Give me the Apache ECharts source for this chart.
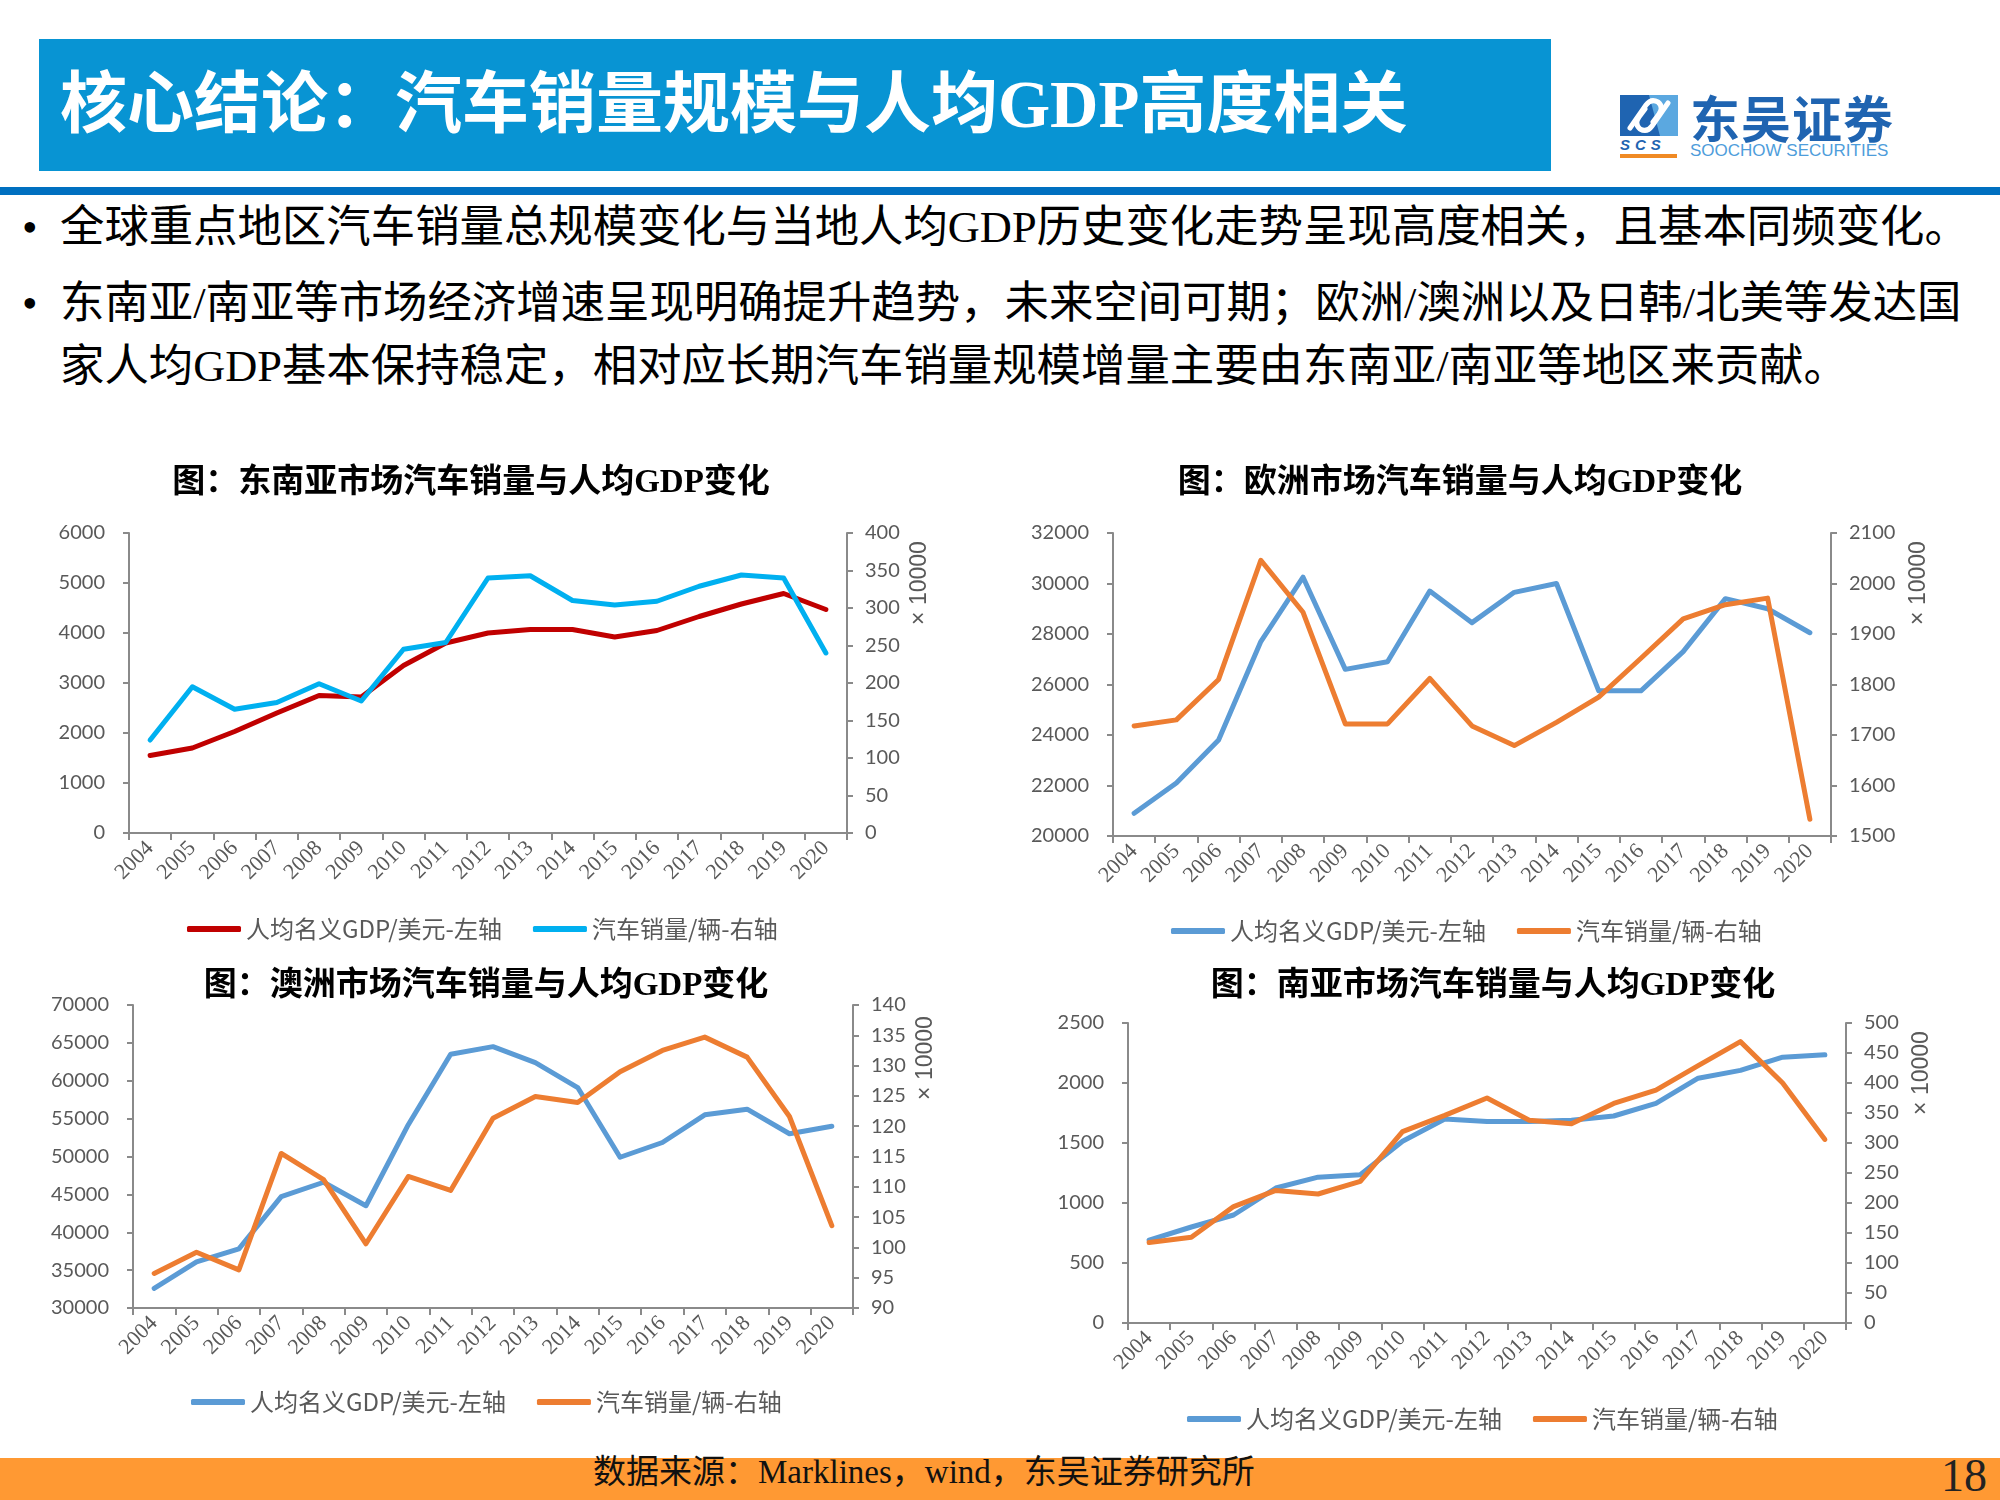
<!DOCTYPE html>
<html>
<head>
<meta charset="utf-8">
<script src="https://cdn.jsdelivr.net/npm/echarts/dist/echarts.min.js"></script>
<style>
html,body{margin:0;padding:0;background:#fff;}
#page{position:relative;width:2000px;height:1500px;overflow:hidden;background:#fff;font-family:"Liberation Serif","Noto Sans CJK SC",serif;}
.abs{position:absolute;white-space:nowrap;}
.chart{position:absolute;left:0;top:0;width:2000px;height:1500px;}
#hbox{left:39px;top:39px;width:1512px;height:132px;background:#0894D3;}
#htitle{left:60px;top:64px;height:80px;line-height:80px;font-size:67px;font-weight:bold;color:#fff;}
#hbar{left:0;top:187px;width:2000px;height:8px;background:#0070C0;}
.bul{font-size:44.4px;color:#000;height:60px;line-height:60px;}
#foot{left:0;top:1458px;width:2000px;height:42px;background:#FF9933;}
#src{left:593px;top:1452px;height:40px;line-height:40px;font-size:33px;color:#111;}
#pno{left:1941px;top:1450px;height:52px;line-height:52px;font-size:46px;color:#222;}
#logoCn{left:1690px;top:88px;height:56px;line-height:56px;font-size:50px;font-weight:bold;color:#1F64B1;font-family:"Noto Sans CJK SC";letter-spacing:1px;}
#logoEn{left:1690px;top:141px;height:20px;line-height:20px;font-size:17px;color:#4E9DDB;font-family:"Liberation Sans";}
#logoScs{left:1620px;top:137px;height:16px;line-height:16px;font-size:15px;font-weight:bold;font-style:italic;color:#1F64B1;font-family:"Liberation Sans";letter-spacing:5px;}
#logoLine{left:1620px;top:154px;width:57px;height:4px;background:#F08A24;}
</style>
</head>
<body>
<div id="page">
  <div class="abs" id="hbox"></div>
  <div class="abs" id="htitle">核心结论：汽车销量规模与人均GDP高度相关</div>
  <svg class="abs" style="left:1620px;top:95px;" width="58" height="41" viewBox="0 0 58 41">
    <rect x="0" y="0" width="58" height="41" fill="#1F64B1"/>
    <path d="M29 0 L58 0 L58 41 L40 41 Z" fill="#5BA8E0"/>
    <path d="M10 33 L26 10 Q31 3 38 7 Q44 12 39 19 L33 27" stroke="#fff" stroke-width="5" fill="none" stroke-linecap="round"/>
    <path d="M48 8 L32 31 Q27 38 20 34 Q14 29 19 22 L25 14" stroke="#fff" stroke-width="5" fill="none" stroke-linecap="round"/>
  </svg>
  <div class="abs" id="logoScs">SCS</div>
  <div class="abs" id="logoLine"></div>
  <div class="abs" id="logoCn">东吴证券</div>
  <div class="abs" id="logoEn">SOOCHOW SECURITIES</div>
  <div class="abs" id="hbar"></div>

  <div class="abs bul" style="left:22px;top:197px;">•</div>
  <div class="abs bul" style="left:60px;top:197px;">全球重点地区汽车销量总规模变化与当地人均GDP历史变化走势呈现高度相关，且基本同频变化。</div>
  <div class="abs bul" style="left:22px;top:273px;">•</div>
  <div class="abs bul" style="left:60px;top:273px;">东南亚/南亚等市场经济增速呈现明确提升趋势，未来空间可期；欧洲/澳洲以及日韩/北美等发达国</div>
  <div class="abs bul" style="left:60px;top:336px;">家人均GDP基本保持稳定，相对应长期汽车销量规模增量主要由东南亚/南亚等地区来贡献。</div>

  <div class="abs" id="foot"></div>
  <div class="abs" id="src">数据来源：Marklines，wind，东吴证券研究所</div>
  <div class="abs" id="pno">18</div>

  <div class="chart" id="c1"></div>
  <div class="chart" id="c2"></div>
  <div class="chart" id="c3"></div>
  <div class="chart" id="c4"></div>
</div>
<script>
// ---------- data ----------
const years = ['2004','2005','2006','2007','2008','2009','2010','2011','2012','2013','2014','2015','2016','2017','2018','2019','2020'];
const gdpName = '人均名义GDP/美元-左轴';
const salesName = '汽车销量/辆-右轴';
const unitLabel = '× 10000';

// 东南亚
const seaGdp   = [1550,1700,2030,2400,2750,2720,3350,3800,4000,4070,4070,3920,4050,4330,4580,4790,4470];
const seaSales = [124,195,165,174,199,176,245,254,340,343,310,304,309,329,344,340,240];
const seaLeftTicks  = [0,1000,2000,3000,4000,5000,6000];
const seaRightTicks = [0,50,100,150,200,250,300,350,400];

// 欧洲
const euGdp   = [20900,22100,23800,27700,30250,26600,26900,29700,28450,29650,30000,25750,25750,27300,29400,29000,28050];
const euSales = [1718,1730,1810,2046,1943,1722,1722,1812,1718,1679,1725,1775,1852,1930,1958,1971,1533];
const euLeftTicks  = [20000,22000,24000,26000,28000,30000,32000];
const euRightTicks = [1500,1600,1700,1800,1900,2000,2100];

// 澳洲
const auGdp   = [32600,36100,37800,44700,46600,43500,54200,63500,64500,62400,59100,49900,51850,55500,56250,53000,54000];
const auSales = [95.7,99.2,96.3,115.5,111.2,100.6,111.7,109.4,121.3,124.9,123.9,129.0,132.5,134.7,131.4,121.6,103.6];
const auLeftTicks  = [30000,35000,40000,45000,50000,55000,60000,65000,70000];
const auRightTicks = [90,95,100,105,110,115,120,125,130,135,140];

// 南亚
const saGdp   = [690,800,900,1125,1215,1235,1515,1700,1680,1680,1690,1725,1830,2040,2105,2215,2235];
const saSales = [134,143,194,221,215,236,319,346,375,338,332,366,388,429,469,400,306];
const saLeftTicks  = [0,500,1000,1500,2000,2500];
const saRightTicks = [0,50,100,150,200,250,300,350,400,450,500];

// ---------- drawing ----------
const AX = '#8A8A8A';
const LBL = '#595959';
const CJKSERIF = '"Liberation Serif","Noto Sans CJK SC"';

function yAxisFrom(ticks, pos, margin) {
  return {
    type: 'value', position: pos,
    min: ticks[0], max: ticks[ticks.length - 1], interval: ticks[1] - ticks[0],
    axisLine: {show: true, lineStyle: {color: AX, width: 2}},
    axisTick: {show: true, length: 6, lineStyle: {color: AX, width: 2}},
    splitLine: {show: false},
    axisLabel: {margin: margin, fontSize: 20, color: LBL, fontFamily: 'Lato',
                formatter: function (v) { return String(v); }}
  };
}

function makeChart(id, c) {
  const chart = echarts.init(document.getElementById(id), null, {renderer: 'canvas'});
  chart.setOption({
    animation: false,
    grid: {left: c.grid[0], top: c.grid[1], width: c.grid[2], height: c.grid[3], containLabel: false},
    legend: {
      left: c.legend[0], top: c.legend[1] - 13, padding: 0,
      icon: 'roundRect', itemWidth: 54, itemHeight: 6, itemGap: 31,
      textStyle: {fontSize: 24, color: LBL, fontFamily: '"Noto Sans CJK SC"'},
      data: [gdpName, salesName]
    },
    xAxis: {
      type: 'category', data: years, boundaryGap: true,
      axisLine: {onZero: false, lineStyle: {color: AX, width: 2}},
      axisTick: {show: true, length: 7, lineStyle: {color: AX, width: 2}},
      axisLabel: {rotate: 45, interval: 0, margin: 12, fontSize: 22, color: LBL, fontFamily: '"Liberation Serif"'}
    },
    yAxis: [yAxisFrom(c.left, 'left', 24), yAxisFrom(c.right, 'right', 18)],
    series: [
      {name: gdpName, type: 'line', yAxisIndex: 0, data: c.gdp, symbol: 'none', smooth: false,
       itemStyle: {color: c.colors[0]}, lineStyle: {color: c.colors[0], width: 5, cap: 'round', join: 'round'}},
      {name: salesName, type: 'line', yAxisIndex: 1, data: c.sales, symbol: 'none', smooth: false,
       itemStyle: {color: c.colors[1]}, lineStyle: {color: c.colors[1], width: 5, cap: 'round', join: 'round'}}
    ],
    graphic: [
      {type: 'text', x: c.title[0], y: c.title[1],
       style: {text: c.title[2], fill: '#000', font: 'bold 33px ' + CJKSERIF,
               textAlign: 'center', align: 'center', textVerticalAlign: 'middle', verticalAlign: 'middle'}},
      {type: 'text', x: c.unit[0], y: c.unit[1], rotation: Math.PI / 2,
       style: {text: unitLabel, fill: LBL, font: '23px "Liberation Sans"',
               textAlign: 'center', align: 'center', textVerticalAlign: 'middle', verticalAlign: 'middle'}}
    ]
  });
}

makeChart('c1', {
  grid: [129, 533, 718, 300], title: [471, 483, '图：东南亚市场汽车销量与人均GDP变化'], unit: [920, 583],
  legend: [187, 930], colors: ['#C00000', '#00B0F0'],
  left: seaLeftTicks, right: seaRightTicks, gdp: seaGdp, sales: seaSales
});
makeChart('c2', {
  grid: [1113, 533, 718, 303], title: [1460, 483, '图：欧洲市场汽车销量与人均GDP变化'], unit: [1919, 583],
  legend: [1171, 932], colors: ['#5B9BD5', '#ED7D31'],
  left: euLeftTicks, right: euRightTicks, gdp: euGdp, sales: euSales
});
makeChart('c3', {
  grid: [133, 1005, 720, 303], title: [486, 986, '图：澳洲市场汽车销量与人均GDP变化'], unit: [926, 1058],
  legend: [191, 1403], colors: ['#5B9BD5', '#ED7D31'],
  left: auLeftTicks, right: auRightTicks, gdp: auGdp, sales: auSales
});
makeChart('c4', {
  grid: [1128, 1023, 718, 300], title: [1493, 986, '图：南亚市场汽车销量与人均GDP变化'], unit: [1922, 1073],
  legend: [1187, 1420], colors: ['#5B9BD5', '#ED7D31'],
  left: saLeftTicks, right: saRightTicks, gdp: saGdp, sales: saSales
});
</script>
</body>
</html>
